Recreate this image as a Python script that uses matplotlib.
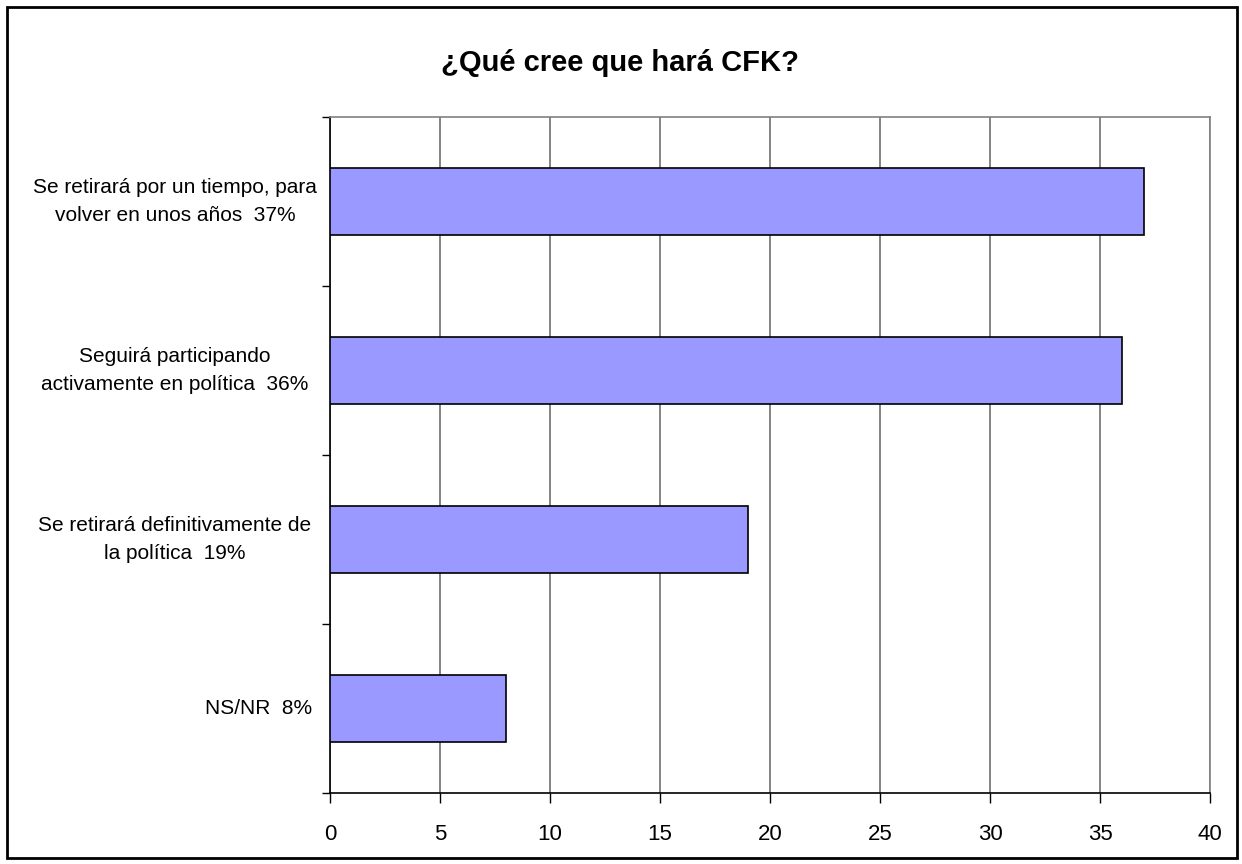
import matplotlib.pyplot as plt
from matplotlib.patches import Rectangle

# ====== DATOS ======
categorias = [
    "Se retirará por un tiempo, para\nvolver en unos años  37%",
    "Seguirá participando\nactivamente en política  36%",
    "Se retirará definitivamente de\nla política  19%",
    "NS/NR  8%",
]
valores = [37, 36, 19, 8]
xticks = [0, 5, 10, 15, 20, 25, 30, 35, 40]

plt.rcParams['font.family'] = ['Liberation Sans', 'DejaVu Sans']

fig = plt.figure(figsize=(12.42, 8.64), dpi=100)
ax = fig.add_axes([330 / 1242, 1 - 793 / 864, 880 / 1242, 676 / 864])

# borde de la figura
fig.patches.append(Rectangle((7 / 1242, 1 - 858 / 864), 1230 / 1242, 851 / 864,
                             transform=fig.transFigure, fill=False,
                             edgecolor='black', linewidth=2))

pos = list(range(len(categorias)))[::-1]
ax.barh(pos, valores, height=0.4, color='#9999FF', edgecolor='black',
        linewidth=1.2, zorder=3)

ax.set_xlim(0, 40)
ax.set_ylim(-0.5, len(categorias) - 0.5)
ax.set_xticks(xticks)
ax.set_xticklabels([str(t) for t in xticks], fontsize=16)
ax.xaxis.grid(True, color='#707070', linewidth=1.2, zorder=0)

# marcas en los límites de categoría
ax.set_yticks([p - 0.5 for p in range(len(categorias) + 1)])
ax.set_yticklabels([])
ax.tick_params(axis='y', length=6, width=1, direction='out')
ax.tick_params(axis='x', length=7, width=1, direction='out', pad=15)

# etiquetas: multilínea centradas, una línea alineada a la derecha (estilo Excel)
for p, cat in zip(pos, categorias):
    if "\n" in cat:
        ax.annotate(cat, xy=(0, p), xycoords=('axes fraction', 'data'),
                    xytext=(-155, 0), textcoords='offset pixels',
                    ha='center', va='center', fontsize=15, linespacing=1.55)
    else:
        ax.annotate(cat, xy=(0, p), xycoords=('axes fraction', 'data'),
                    xytext=(-18, 0), textcoords='offset pixels',
                    ha='right', va='center', fontsize=15)

for s in ['top', 'right']:
    ax.spines[s].set_color('#808080')
    ax.spines[s].set_linewidth(1.2)
for s in ['left', 'bottom']:
    ax.spines[s].set_color('black')
    ax.spines[s].set_linewidth(1.2)

fig.text(620 / 1242, 1 - 63 / 864, "¿Qué cree que hará CFK?", ha='center',
         va='center', fontsize=21, fontweight='bold')

fig.savefig("out.png", dpi=100)
